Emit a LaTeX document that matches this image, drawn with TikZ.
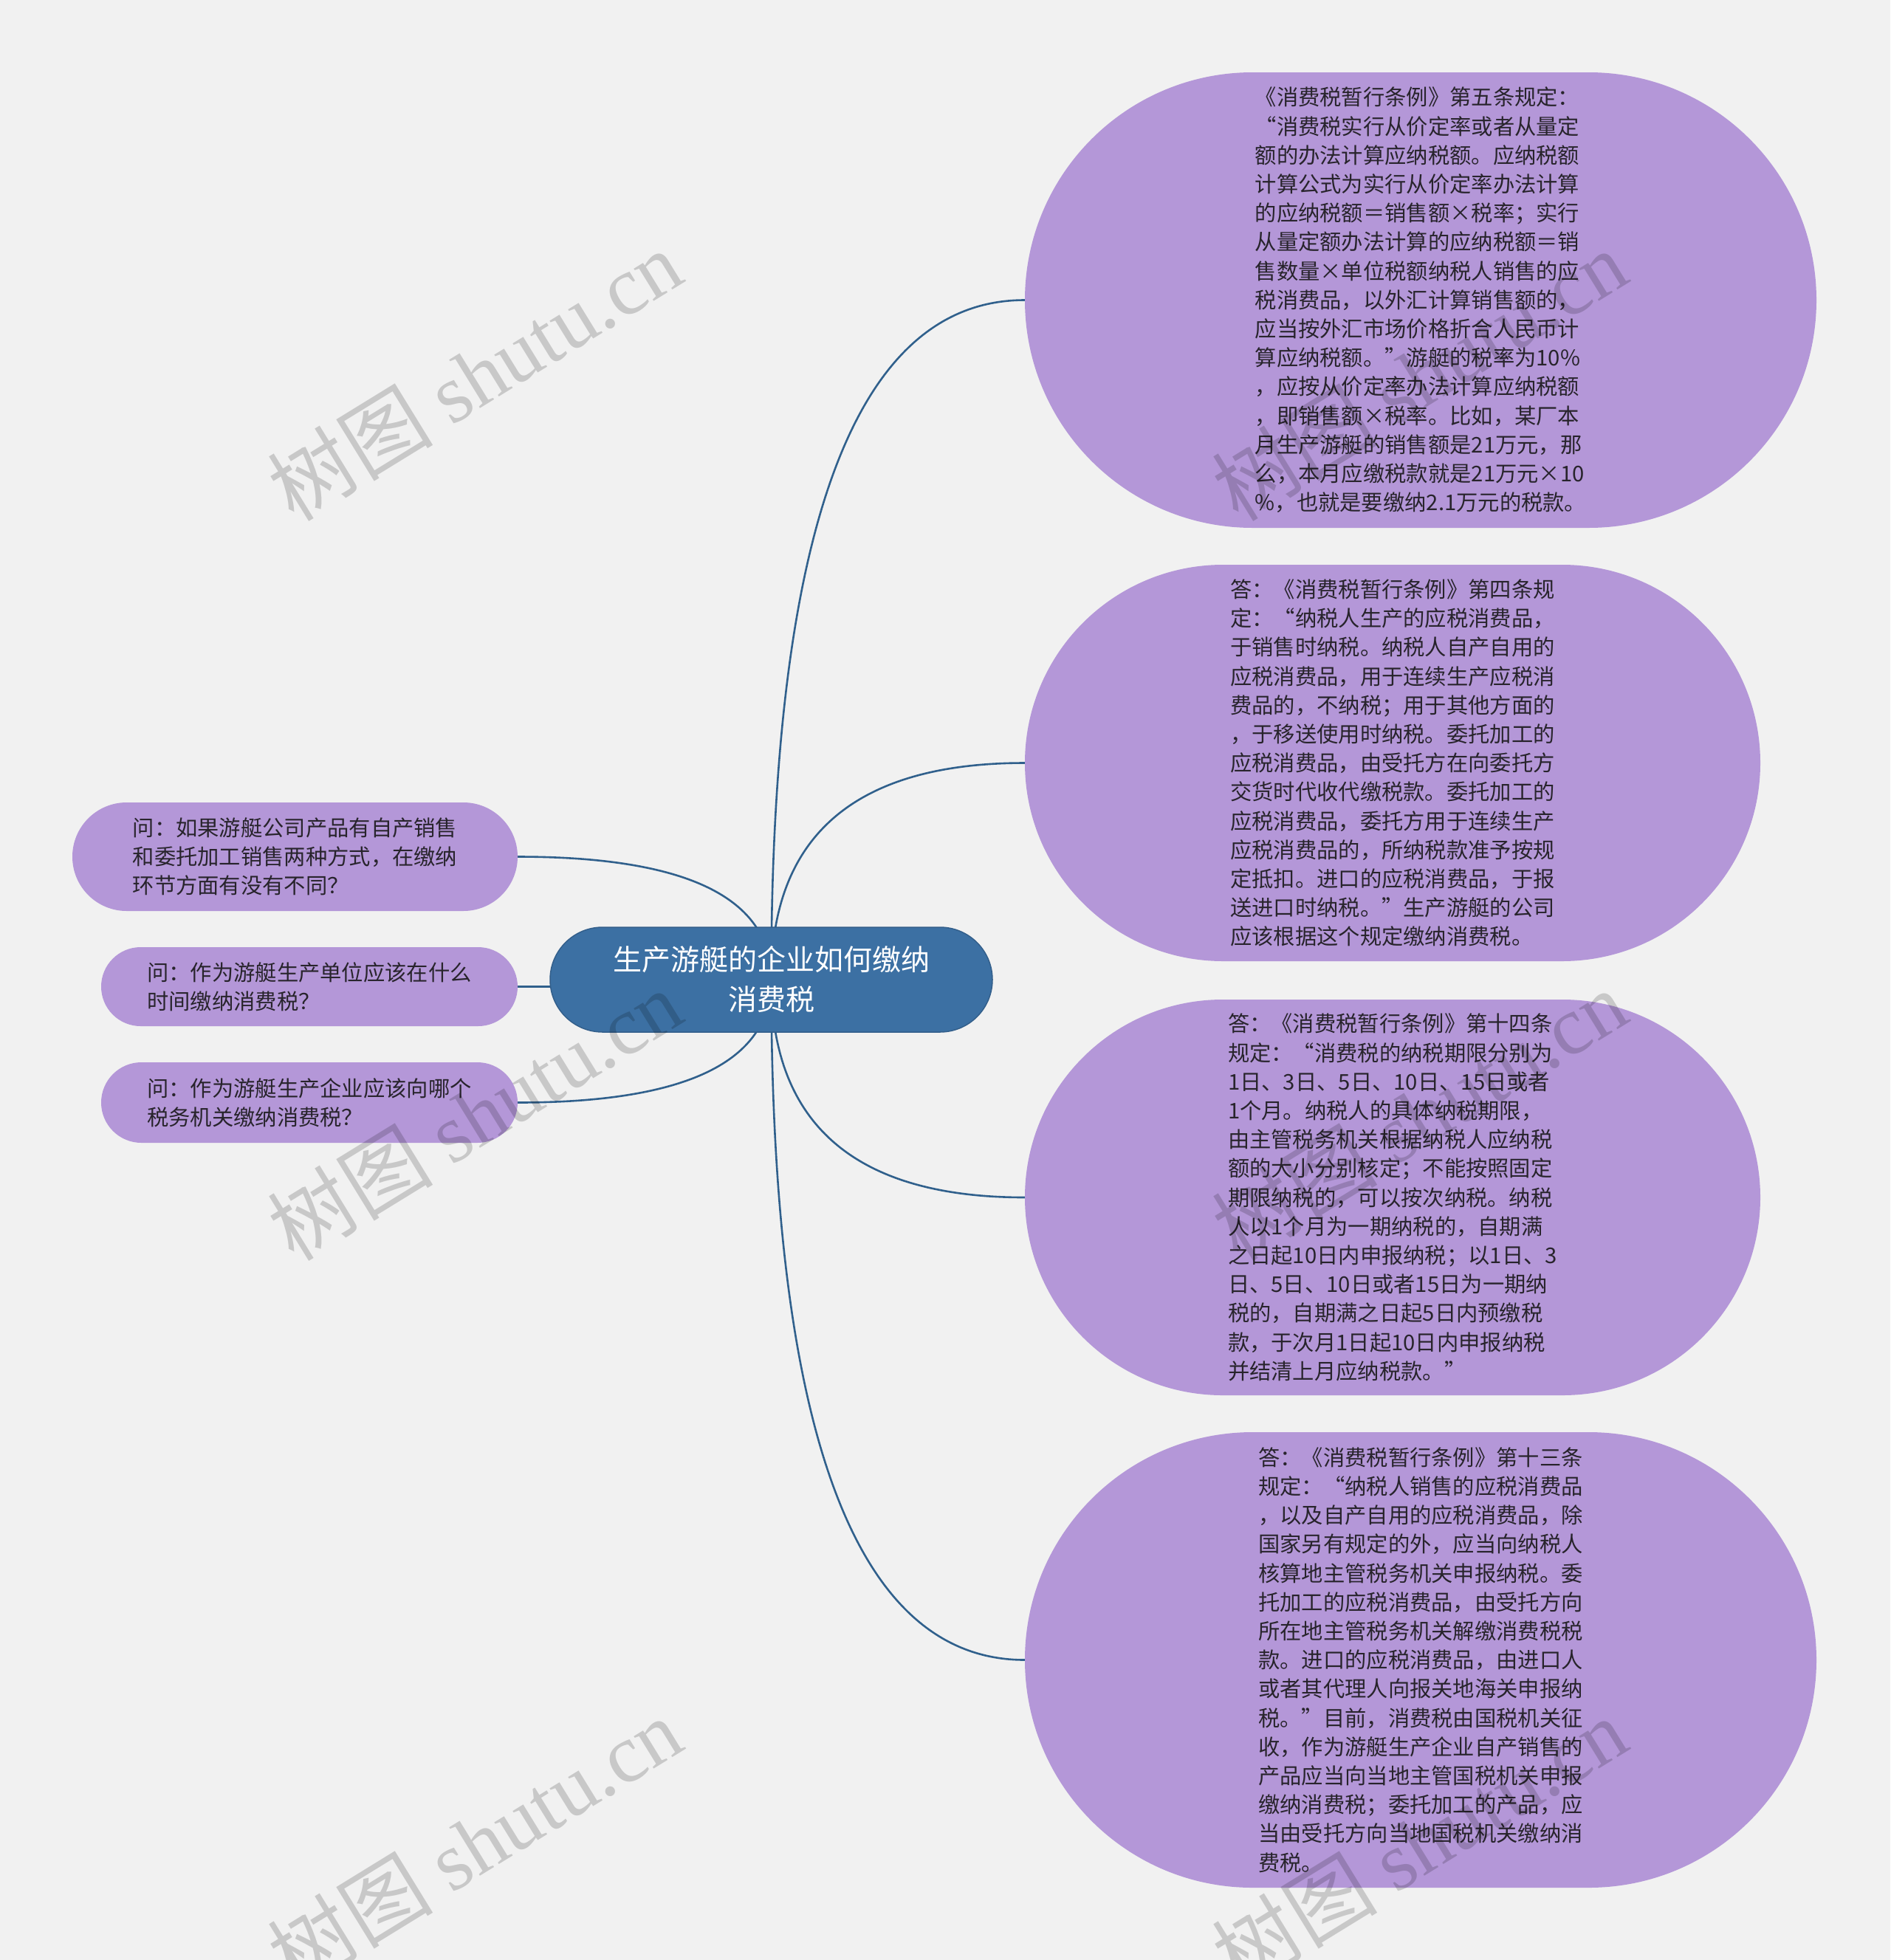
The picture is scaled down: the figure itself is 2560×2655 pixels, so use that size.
\documentclass[tikz,border=0pt]{standalone}
\usepackage{fontspec}
\setmainfont{Noto Sans CJK SC}
\newfontfamily\wmserif{Liberation Serif}
\newfontfamily\wmcjk{Noto Sans CJK SC}
\usetikzlibrary{shapes.misc,calc}
\definecolor{bgc}{RGB}{241,241,241}
\definecolor{lav}{RGB}{180,151,216}
\definecolor{rootc}{RGB}{60,112,163}
\definecolor{linec}{RGB}{48,96,140}
\definecolor{txtc}{RGB}{40,36,44}
\pgfdeclarelayer{bglayer}
\pgfsetlayers{bglayer,main}
\tikzset{
 leafbox/.style={rounded rectangle, fill=lav, inner sep=0pt, text=txtc, align=left, font=\fontsize{29.3}{39.2}\selectfont},
 rootbox/.style={rounded rectangle, fill=rootc, draw=rootc!85!black, line width=1.5pt, inner sep=0pt, text=white, align=center, font=\fontsize{39}{54}\selectfont},
 conn/.style={draw=linec, line width=2.6pt},
 wm/.style={text=black, text opacity=0.17, rotate=31.6, font=\fontsize{112}{112}\selectfont}
}
\newcommand\mmlink[2]{\draw[conn] let \p1=(#1), \p2=(#2) in (\p1) .. controls (\x1,{\y1+2*(\y2-\y1)/3}) and ({\x1+(\x2-\x1)/3},\y2) .. (\p2);}
\begin{document}
\begin{tikzpicture}[x=1pt,y=-1pt]
\useasboundingbox (0,0) rectangle (2560,2655);
\begin{pgfonlayer}{bglayer}
\fill[bgc] (0,0) rectangle (2560,2655);
\end{pgfonlayer}

\node[rootbox, minimum width=599, minimum height=142] (root) at (1044.5,1327) {生产游艇的企业如何缴纳\\消费税};

\node[leafbox, minimum width=1072, minimum height=617] (n1) at (1924,406.5) {《消费税暂行条例》第五条规定：\\“消费税实行从价定率或者从量定\\额的办法计算应纳税额。应纳税额\\计算公式为实行从价定率办法计算\\的应纳税额＝销售额×税率；实行\\从量定额办法计算的应纳税额＝销\\售数量×单位税额纳税人销售的应\\税消费品，以外汇计算销售额的，\\应当按外汇市场价格折合人民币计\\算应纳税额。”游艇的税率为10\%\\，应按从价定率办法计算应纳税额\\，即销售额×税率。比如，某厂本\\月生产游艇的销售额是21万元，那\\么，本月应缴税款就是21万元×10\\\%，也就是要缴纳2.1万元的税款。};

\node[leafbox, minimum width=996, minimum height=537] (n2) at (1886,1033.5) {答：《消费税暂行条例》第四条规\\定：“纳税人生产的应税消费品，\\于销售时纳税。纳税人自产自用的\\应税消费品，用于连续生产应税消\\费品的，不纳税；用于其他方面的\\，于移送使用时纳税。委托加工的\\应税消费品，由受托方在向委托方\\交货时代收代缴税款。委托加工的\\应税消费品，委托方用于连续生产\\应税消费品的，所纳税款准予按规\\定抵扣。进口的应税消费品，于报\\送进口时纳税。”生产游艇的公司\\应该根据这个规定缴纳消费税。};

\node[leafbox, minimum width=996, minimum height=536] (n3) at (1886,1622) {答：《消费税暂行条例》第十四条\\规定：“消费税的纳税期限分别为\\1日、3日、5日、10日、15日或者\\1个月。纳税人的具体纳税期限，\\由主管税务机关根据纳税人应纳税\\额的大小分别核定；不能按照固定\\期限纳税的，可以按次纳税。纳税\\人以1个月为一期纳税的，自期满\\之日起10日内申报纳税；以1日、3\\日、5日、10日或者15日为一期纳\\税的，自期满之日起5日内预缴税\\款，于次月1日起10日内申报纳税\\并结清上月应纳税款。”};

\node[leafbox, minimum width=1072, minimum height=617] (n4) at (1924,2248.5) {答：《消费税暂行条例》第十三条\\规定：“纳税人销售的应税消费品\\，以及自产自用的应税消费品，除\\国家另有规定的外，应当向纳税人\\核算地主管税务机关申报纳税。委\\托加工的应税消费品，由受托方向\\所在地主管税务机关解缴消费税税\\款。进口的应税消费品，由进口人\\或者其代理人向报关地海关申报纳\\税。”目前，消费税由国税机关征\\收，作为游艇生产企业自产销售的\\产品应当向当地主管国税机关申报\\缴纳消费税；委托加工的产品，应\\当由受托方向当地国税机关缴纳消\\费税。};

\node[leafbox, minimum width=603, minimum height=147] (l1) at (399.5,1160.5) {问：如果游艇公司产品有自产销售\\和委托加工销售两种方式，在缴纳\\环节方面有没有不同？};
\node[leafbox, minimum width=564, minimum height=107] (l2) at (419,1336.5) {问：作为游艇生产单位应该在什么\\时间缴纳消费税？};
\node[leafbox, minimum width=564, minimum height=109] (l3) at (419,1493.5) {问：作为游艇生产企业应该向哪个\\税务机关缴纳消费税？};

\begin{pgfonlayer}{bglayer}
\mmlink{root.center}{n1.west}
\mmlink{root.center}{n2.west}
\mmlink{root.center}{n3.west}
\mmlink{root.center}{n4.west}
\mmlink{root.center}{l1.east}
\mmlink{root.center}{l2.east}
\mmlink{root.center}{l3.east}
\end{pgfonlayer}

\node[wm] (wm1) at (643,508) {\wmcjk 树图 \wmserif shutu.cn};
\node[wm] (wm2) at (643,1510) {\wmcjk 树图 \wmserif shutu.cn};
\node[wm] (wm3) at (643,2496) {\wmcjk 树图 \wmserif shutu.cn};
\node[wm] (wm4) at (1922,508) {\wmcjk 树图 \wmserif shutu.cn};
\node[wm] (wm5) at (1922,1510) {\wmcjk 树图 \wmserif shutu.cn};
\node[wm] (wm6) at (1922,2496) {\wmcjk 树图 \wmserif shutu.cn};
\end{tikzpicture}
\end{document}
